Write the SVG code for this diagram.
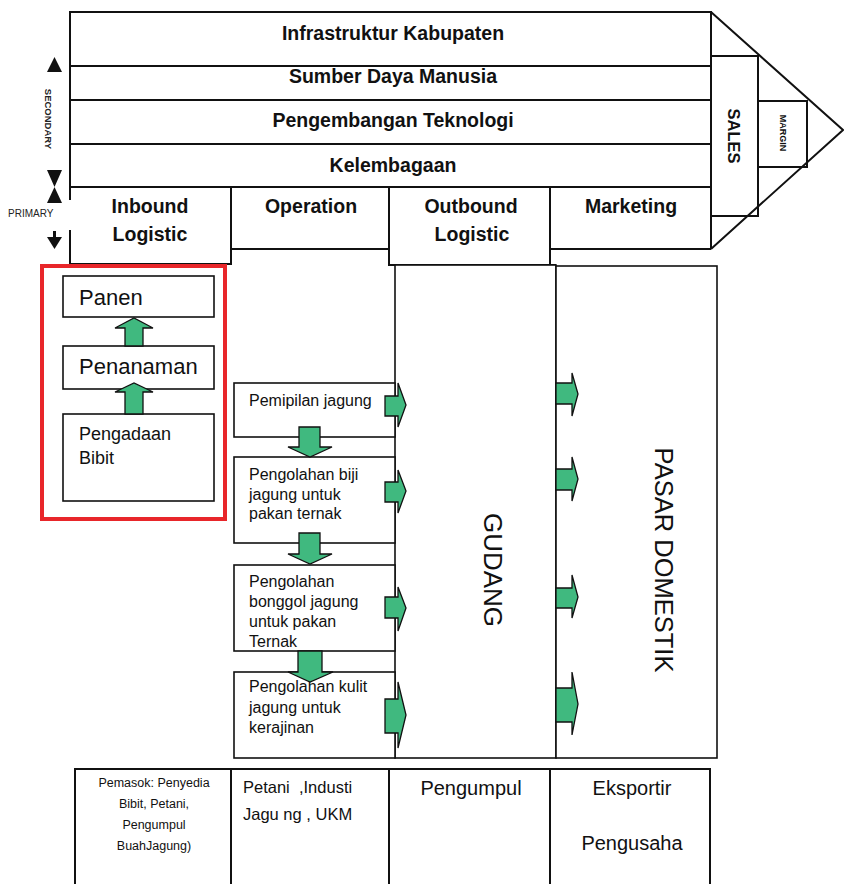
<svg xmlns="http://www.w3.org/2000/svg" width="844" height="884" viewBox="0 0 844 884">
<style>
.ln{fill:none;stroke:#111;stroke-width:2}
.bx{fill:#fff;stroke:#111;stroke-width:1.6}
.hd{font-family:"Liberation Sans",Arial,sans-serif;font-weight:bold;font-size:19.5px;fill:#111;text-anchor:middle}
.tx{font-family:"Liberation Sans",Arial,sans-serif;fill:#111}
.ar{fill:#40b97f;stroke:#111;stroke-width:1.3;stroke-linejoin:miter}
.tri{fill:#111}
</style>
<rect width="844" height="884" fill="#fff"/>

<g id="secondary-activities">
  <rect class="ln" x="70" y="12" width="641" height="175"/>
  <path class="ln" d="M70,66H711M70,100H711M70,144H711"/>
  <text class="hd" x="393" y="40">Infrastruktur Kabupaten</text>
  <text class="hd" x="393" y="83">Sumber Daya Manusia</text>
  <text class="hd" x="393" y="127">Pengembangan Teknologi</text>
  <text class="hd" x="393" y="172">Kelembagaan</text>
</g>

<g id="margin-arrow">
  <path class="ln" d="M711,12V249"/>
  <polyline class="ln" points="711,12 843,130 711,249"/>
  <rect class="ln" x="711" y="56" width="47" height="160"/>
  <text class="hd" style="font-size:16.5px" transform="translate(734,136) rotate(90)" dy="0.36em">SALES</text>
  <rect class="ln" x="758" y="101" width="49" height="66"/>
  <text class="hd" style="font-size:9px" transform="translate(783,133) rotate(90)" dy="0.36em">MARGIN</text>
</g>

<g id="legend">
  <polygon class="tri" points="47,72 62,72 54.5,57"/>
  <text class="hd" style="font-size:9.5px;fill:#222" transform="translate(48,119) rotate(90)" dy="0.36em">SECONDARY</text>
  <polygon class="tri" points="47,170 62,170 54.5,187 62,203 47,203 54.5,187"/>
  <text class="tx" x="8" y="217" style="font-size:10px;fill:#222">PRIMARY</text>
  <rect class="tri" x="53" y="231" width="3" height="7"/>
  <polygon class="tri" points="47,237 62,237 54.5,249"/>
</g>

<g id="primary-inbound">
  <path class="ln" d="M70,187V200M70,230V264H231V187"/>
  <text class="hd" x="150" y="213">Inbound</text>
  <text class="hd" x="150" y="241">Logistic</text>
</g>
<g id="primary-operation">
  <path class="ln" d="M231,249H389V187"/>
  <text class="hd" x="311" y="213">Operation</text>
</g>
<g id="primary-outbound">
  <path class="ln" d="M389,249V265H556M550,187V265"/>
  <text class="hd" x="471" y="213">Outbound</text>
  <text class="hd" x="472" y="241">Logistic</text>
</g>
<g id="primary-marketing">
  <path class="ln" d="M550,249H711"/>
  <text class="hd" x="631" y="213">Marketing</text>
</g>

<g id="inbound-group">
  <rect x="42" y="266" width="183" height="253" fill="none" stroke="#e8262a" stroke-width="4"/>
</g>
<g id="panen">
  <rect class="bx" x="63" y="276" width="151" height="41"/>
  <text class="tx" x="79" y="305" style="font-size:22px">Panen</text>
</g>
<g id="penanaman">
  <rect class="bx" x="63" y="346" width="151" height="43"/>
  <text class="tx" x="79" y="374" style="font-size:22px">Penanaman</text>
</g>
<g id="pengadaan-bibit">
  <rect class="bx" x="63" y="414" width="151" height="87"/>
  <text class="tx" x="79" y="440" style="font-size:18px">Pengadaan</text>
  <text class="tx" x="79" y="464" style="font-size:18px">Bibit</text>
</g>

<g id="gudang">
  <rect class="bx" x="395" y="265" width="161" height="493"/>
  <text class="tx" style="font-size:26px" text-anchor="middle" transform="translate(493,570) rotate(90)" dy="0.36em">GUDANG</text>
</g>
<g id="pasar-domestik">
  <rect class="bx" x="556" y="266" width="161" height="492"/>
  <text class="tx" style="font-size:25.5px" text-anchor="middle" transform="translate(664,560) rotate(90)" dy="0.36em">PASAR DOMESTIK</text>
</g>

<g id="pemipilan">
  <rect class="bx" x="234" y="383" width="161" height="54"/>
  <text class="tx" x="249" y="406" style="font-size:16px">Pemipilan jagung</text>
</g>
<g id="pengolahan-biji">
  <rect class="bx" x="234" y="457" width="161" height="86"/>
  <text class="tx" style="font-size:16px"><tspan x="249" y="480">Pengolahan biji</tspan><tspan x="249" y="500">jagung untuk</tspan><tspan x="249" y="519">pakan ternak</tspan></text>
</g>
<g id="pengolahan-bonggol">
  <rect class="bx" x="234" y="565" width="161" height="86"/>
  <text class="tx" style="font-size:16px"><tspan x="249" y="587">Pengolahan</tspan><tspan x="249" y="607">bonggol jagung</tspan><tspan x="249" y="627">untuk pakan</tspan><tspan x="249" y="647">Ternak</tspan></text>
</g>
<g id="pengolahan-kulit">
  <rect class="bx" x="234" y="672" width="161" height="86"/>
  <text class="tx" style="font-size:16px"><tspan x="249" y="692">Pengolahan kulit</tspan><tspan x="249" y="713">jagung untuk</tspan><tspan x="249" y="733">kerajinan</tspan></text>
</g>

<g id="actors">
  <path class="ln" d="M75,884V769H710V884M231,769V884M389,769V884M550,769V884"/>
  <text class="tx" text-anchor="middle" style="font-size:12.5px"><tspan x="154" y="787">Pemasok: Penyedia</tspan><tspan x="154" y="808">Bibit, Petani,</tspan><tspan x="154" y="829">Pengumpul</tspan><tspan x="154" y="850">BuahJagung)</tspan></text>
  <text class="tx" style="font-size:16.5px"><tspan x="243" y="793" xml:space="preserve">Petani  ,Industi</tspan><tspan x="243" y="820">Jagu ng , UKM</tspan></text>
  <text class="tx" x="471" y="795" text-anchor="middle" style="font-size:20px">Pengumpul</text>
  <text class="tx" x="632" y="795" text-anchor="middle" style="font-size:20px">Eksportir</text>
  <text class="tx" x="632" y="850" text-anchor="middle" style="font-size:20px">Pengusaha</text>
</g>

<g id="connectors">
  <polygon class="ar" points="125,346 143,346 143,328 153,328 134,318 115,328 125,328"/>
  <polygon class="ar" points="125,414 143,414 143,392 153,392 134,383 115,392 125,392"/>
  <polygon class="ar" points="299,427 320,427 320,447 332,447 310,457 288,447 299,447"/>
  <polygon class="ar" points="299,533 320,533 320,554 332,554 310,564 288,554 299,554"/>
  <polygon class="ar" points="298,651 322,651 322,672 333,672 310,682 288,672 298,672"/>
  <polygon class="ar" points="385,396 398,396 398,383 406,405 398,427 398,416 385,416"/>
  <polygon class="ar" points="385,482 398,482 398,470 406,491 398,513 398,502 385,502"/>
  <polygon class="ar" points="385,597 398,597 398,587 406,608 398,631 398,618 385,618"/>
  <polygon class="ar" points="385,699 398,699 398,682 406,715 398,748 398,733 385,733"/>
  <polygon class="ar" points="556,383 572,383 572,373 578,394 572,416 572,404 556,404"/>
  <polygon class="ar" points="556,469 572,469 572,457 578,479 572,501 572,490 556,490"/>
  <polygon class="ar" points="556,588 572,588 572,575 578,597 572,618 572,608 556,608"/>
  <polygon class="ar" points="556,688 572,688 572,672 578,704 572,735 572,722 556,722"/>
</g>
</svg>
